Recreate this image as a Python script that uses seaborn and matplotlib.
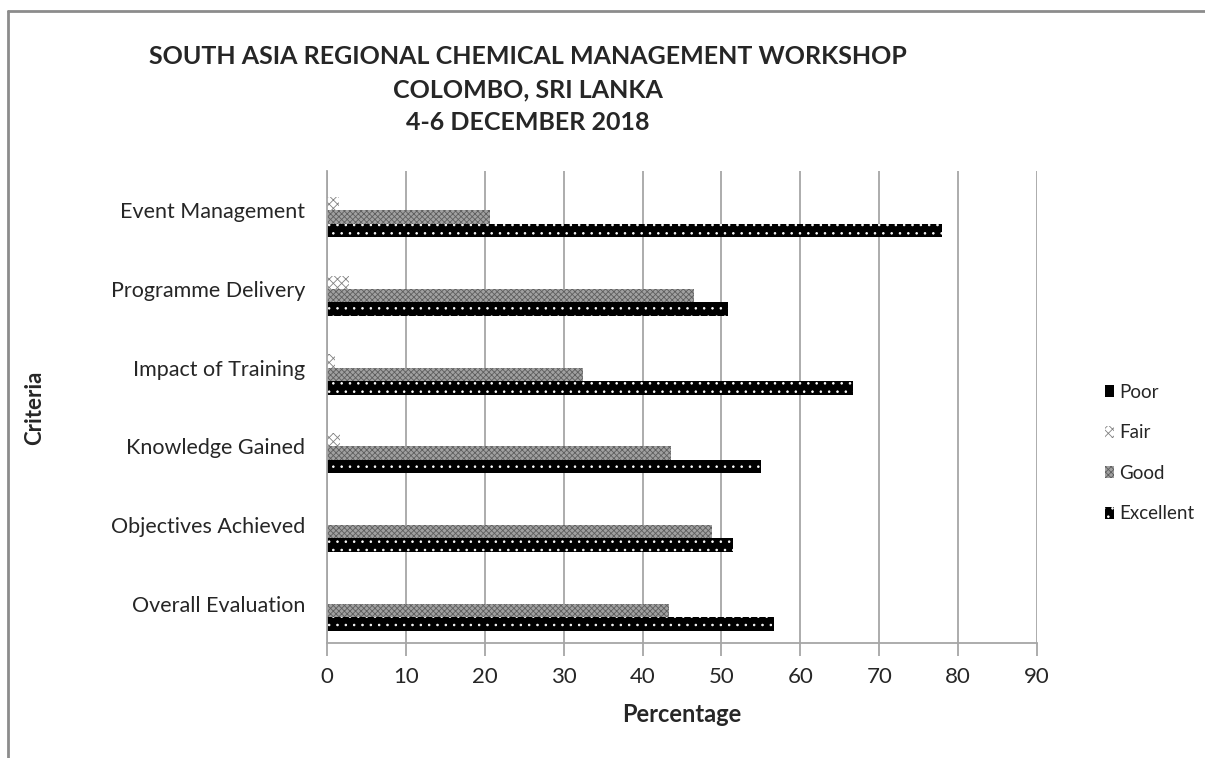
import matplotlib
matplotlib.use("Agg")
import matplotlib.pyplot as plt
from matplotlib.lines import Line2D
import seaborn as sns
import pandas as pd

# chart data
criteria = ["Event Management", "Programme Delivery", "Impact of Training",
            "Knowledge Gained", "Objectives Achieved", "Overall Evaluation"]
ratings = ["Poor", "Fair", "Good", "Excellent"]
poor = [0, 0, 0, 0, 0, 0]
fair = [1.5, 2.8, 1.0, 1.7, 0, 0]
good = [20.7, 46.5, 32.4, 43.6, 48.8, 43.3]
excellent = [78.0, 50.8, 66.7, 55.0, 51.5, 56.7]
x_ticks = [0, 10, 20, 30, 40, 50, 60, 70, 80, 90]

rows = []
for name, vals in zip(ratings, [poor, fair, good, excellent]):
    for c, v in zip(criteria, vals):
        rows.append({"Criteria": c, "Rating": name, "Percentage": v})
df = pd.DataFrame(rows)

sns.set_style("white")
plt.rcParams["font.family"] = ["Lato", "DejaVu Sans"]
plt.rcParams["hatch.linewidth"] = 0.6

fig = plt.figure(figsize=(12.05, 7.58), dpi=100)
ax = fig.add_axes([327 / 1205, 1 - 643 / 758, 710 / 1205, 472 / 758])

sns.barplot(data=df, y="Criteria", x="Percentage", hue="Rating",
            order=criteria, hue_order=ratings, orient="h", width=0.685,
            ax=ax, legend=False, errorbar=None)

# fill styles for each series (face, hatch colour, hatch)
styles = {
    "Poor": ("black", "black", None),
    "Fair": ("white", "#808080", "xxxx"),
    "Good": ("#a0a0a0", "#5e5e5e", "xxxxxx"),
    "Excellent": ("black", "white", ".."),
}
for cont, name in zip(ax.containers, ratings):
    face, hcol, hatch = styles[name]
    for p in cont.patches:
        p.set_facecolor(face)
        p.set_edgecolor(hcol)
        p.set_linewidth(0)
        if hatch:
            p.set_hatch(hatch)

ax.set_xlim(0, 90)
ax.set_xticks(x_ticks)
ax.set_ylim(len(criteria) - 0.5, -0.5)
ax.grid(axis="x", color="#a6a6a6", linewidth=1.3)
ax.set_axisbelow(True)
for s in ["top", "right"]:
    ax.spines[s].set_visible(False)
ax.spines["left"].set_color("#a6a6a6")
ax.spines["bottom"].set_color("#a6a6a6")
ax.spines["left"].set_linewidth(1.3)
ax.spines["bottom"].set_linewidth(1.3)
ax.tick_params(axis="x", which="major", bottom=True, length=9, width=1.3,
               color="#a6a6a6", labelsize=16, labelcolor="#262626", pad=8)
ax.tick_params(axis="y", left=False, labelsize=15.5, labelcolor="#262626", pad=12)

ax.set_xlabel("Percentage", fontsize=17, fontweight="bold", labelpad=12)
ax.set_ylabel("")
fig.text(35 / 1205, 1 - 408 / 758, "Criteria", rotation=90, fontsize=16,
         fontweight="bold", ha="center", va="center")

title_lines = ["SOUTH ASIA REGIONAL CHEMICAL MANAGEMENT WORKSHOP",
               "COLOMBO, SRI LANKA", "4-6 DECEMBER 2018"]
for line, y in zip(title_lines, [57, 90, 122]):
    fig.text(528 / 1205, 1 - y / 758, line, fontsize=18, fontweight="bold",
             ha="center", va="center")

handles = []
for cont in ax.containers:
    handles.append(cont.patches[0])
leg = fig.legend(handles, ratings, loc="center left",
                 bbox_to_anchor=(1088 / 1205, 1 - 453 / 758),
                 frameon=False, fontsize=13.5, handlelength=0.5, handleheight=0.6,
                 handletextpad=0.25, labelspacing=1.25)

# chart frame (only top and left edges visible)
fig.add_artist(Line2D([8 / 1205, 1.0], [1 - 11 / 758, 1 - 11 / 758],
                      transform=fig.transFigure, color="#8c8c8c", linewidth=2))
fig.add_artist(Line2D([8 / 1205, 8 / 1205], [1 - 11 / 758, 0.0],
                      transform=fig.transFigure, color="#8c8c8c", linewidth=2))

fig.savefig("out.png", dpi=100)
